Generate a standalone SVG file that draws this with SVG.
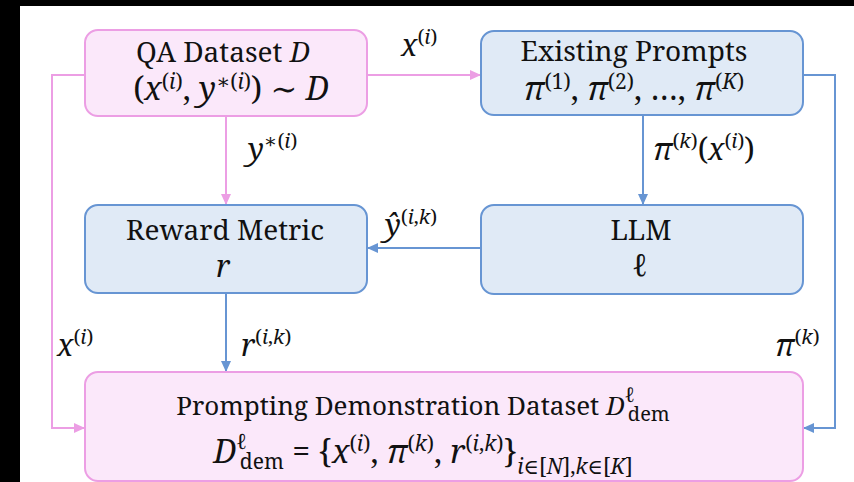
<svg xmlns="http://www.w3.org/2000/svg" width="854" height="482" viewBox="0 0 854 482">
<style>
.pinkbox{fill:#fbe8fa;stroke:#ec9ee4;stroke-width:2}
.bluebox{fill:#e0eaf6;stroke:#6795d3;stroke-width:2}
.pl{fill:none;stroke:#ec9ee4;stroke-width:2}
.bl{fill:none;stroke:#6795d3;stroke-width:2}
.t{font-family:"Noto Serif","DejaVu Serif",serif;font-size:28px;fill:#111}
.m{font-family:"Noto Serif","DejaVu Serif",serif;font-size:30px;fill:#111}
.m2{font-family:"Noto Serif","DejaVu Serif",serif;font-size:32px;fill:#111}
.it{font-style:italic}
.sm{font-size:20px}
.sm2{font-size:21px}
</style>
<defs>
<marker id="ap" markerUnits="userSpaceOnUse" markerWidth="11" markerHeight="10" refX="11" refY="5" orient="auto"><path d="M0,0 L11,5 L0,10 z" fill="#ec9ee4"/></marker>
<marker id="ab" markerUnits="userSpaceOnUse" markerWidth="11" markerHeight="10" refX="11" refY="5" orient="auto"><path d="M0,0 L11,5 L0,10 z" fill="#6795d3"/></marker>
</defs>
<rect x="0" y="0" width="854" height="482" fill="#ffffff"/>
<rect x="0" y="0" width="20" height="482" fill="#000"/>
<rect x="0" y="0" width="854" height="6" fill="#000"/>
<g id="connectors">
<path class="pl" d="M367,75 H481" marker-end="url(#ap)"/>
<path class="pl" d="M85,75 H52 V428 H85" marker-end="url(#ap)"/>
<path class="pl" d="M226,116 V205" marker-end="url(#ap)"/>
<path class="bl" d="M643,115 V205" marker-end="url(#ab)"/>
<path class="bl" d="M481,248 H367" marker-end="url(#ab)"/>
<path class="bl" d="M226,293 V372" marker-end="url(#ab)"/>
<path class="bl" d="M803,75 H835 V428 H803" marker-end="url(#ab)"/>
<text class="m" x="401" y="56"><tspan class="it">x</tspan><tspan class="sm" dy="-12">(<tspan class="it">i</tspan>)</tspan></text>
<text class="m" x="248" y="160"><tspan class="it">y</tspan><tspan class="sm" dy="-12">∗(<tspan class="it">i</tspan>)</tspan></text>
<text class="m" x="653" y="160"><tspan class="it">π</tspan><tspan class="sm" dy="-12">(<tspan class="it">k</tspan>)</tspan><tspan dy="12">(</tspan><tspan class="it">x</tspan><tspan class="sm" dy="-12">(<tspan class="it">i</tspan>)</tspan><tspan dy="12">)</tspan></text>
<text class="m" x="385" y="236"><tspan class="it">ŷ</tspan><tspan class="sm" dy="-12">(<tspan class="it">i</tspan>,<tspan class="it">k</tspan>)</tspan></text>
<text class="m" x="241" y="356"><tspan class="it">r</tspan><tspan class="sm" dy="-12">(<tspan class="it">i</tspan>,<tspan class="it">k</tspan>)</tspan></text>
<text class="m" x="57" y="356"><tspan class="it">x</tspan><tspan class="sm" dy="-12">(<tspan class="it">i</tspan>)</tspan></text>
<text class="m" x="775" y="356"><tspan class="it">π</tspan><tspan class="sm" dy="-12">(<tspan class="it">k</tspan>)</tspan></text>
</g>

<g id="qa-dataset">
<rect class="pinkbox" x="85" y="30" width="282" height="86" rx="13"/>
<text class="t" x="223" y="62" text-anchor="middle">QA Dataset <tspan class="it">D</tspan></text>
<text class="m2" x="231" y="100" text-anchor="middle">(<tspan class="it">x</tspan><tspan class="sm2" dy="-11">(<tspan class="it">i</tspan>)</tspan><tspan dy="11">, </tspan><tspan class="it">y</tspan><tspan class="sm2" dy="-11">∗(<tspan class="it">i</tspan>)</tspan><tspan dy="11">) ∼ </tspan><tspan class="it">D</tspan></text>
</g>

<g id="existing-prompts">
<rect class="bluebox" x="481" y="31" width="322" height="84" rx="13"/>
<text class="t" x="634" y="61" text-anchor="middle">Existing Prompts</text>
<text class="m2" x="634" y="100" text-anchor="middle"><tspan class="it">π</tspan><tspan class="sm2" dy="-11">(1)</tspan><tspan dy="11">, </tspan><tspan class="it">π</tspan><tspan class="sm2" dy="-11">(2)</tspan><tspan dy="11">, …, </tspan><tspan class="it">π</tspan><tspan class="sm2" dy="-11">(<tspan class="it">K</tspan>)</tspan></text>
</g>

<g id="reward-metric">
<rect class="bluebox" x="85" y="205" width="282" height="88" rx="13"/>
<text class="t" x="225" y="240" text-anchor="middle">Reward Metric</text>
<text class="m it" x="223" y="277" text-anchor="middle">r</text>
</g>

<g id="llm">
<rect class="bluebox" x="481" y="205" width="322" height="89" rx="13"/>
<text class="t" x="641" y="240" text-anchor="middle">LLM</text>
<text class="m it" x="640" y="276" text-anchor="middle">ℓ</text>
</g>

<g id="demo-dataset">
<rect class="pinkbox" x="85" y="372" width="718" height="109" rx="13"/>
<text class="t" x="423" y="415" text-anchor="middle" style="font-size:26px">Prompting Demonstration Dataset <tspan class="it">D</tspan><tspan class="sm it" dy="-13">ℓ</tspan><tspan class="sm" dx="-7" dy="19">dem</tspan></text>
<text class="m2" x="423" y="463" text-anchor="middle"><tspan class="it">D</tspan><tspan class="sm2 it" dy="-14">ℓ</tspan><tspan class="sm2" dx="-7" dy="20">dem</tspan><tspan dy="-6"> = {</tspan><tspan class="it">x</tspan><tspan class="sm2" dy="-12">(<tspan class="it">i</tspan>)</tspan><tspan dy="12">, </tspan><tspan class="it">π</tspan><tspan class="sm2" dy="-12">(<tspan class="it">k</tspan>)</tspan><tspan dy="12">, </tspan><tspan class="it">r</tspan><tspan class="sm2" dy="-12">(<tspan class="it">i</tspan>,<tspan class="it">k</tspan>)</tspan><tspan dy="12">}</tspan><tspan class="sm2" dy="11"><tspan class="it">i</tspan>∈[<tspan class="it">N</tspan>],<tspan class="it">k</tspan>∈[<tspan class="it">K</tspan>]</tspan></text>
</g>
</svg>
